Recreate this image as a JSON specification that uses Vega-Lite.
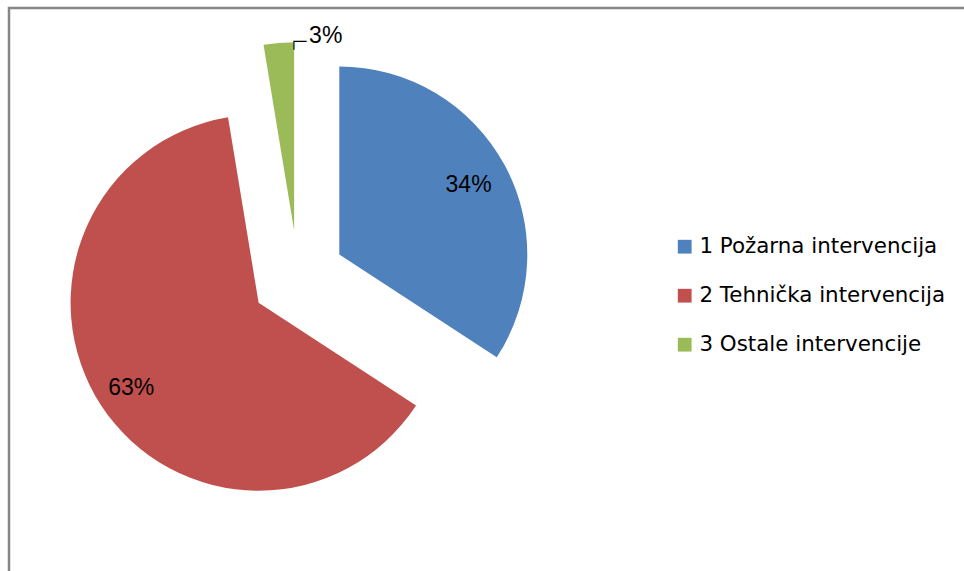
{
  "$schema": "https://vega.github.io/schema/vega-lite/v6.json",
  "width": 959,
  "height": 568,
  "autosize": {"type": "none"},
  "padding": {"left": 9, "top": 8, "right": -4, "bottom": -5},
  "view": {"stroke": "#868686", "strokeWidth": 2.5},
  "config": {
    "view": {"stroke": "#868686", "strokeWidth": 2.5},
    "font": "Liberation Sans"
  },
  "data": {
    "values": [
      {"category": "1 Požarna intervencija", "order": 1, "share": 0.342},
      {"category": "2 Tehnička intervencija", "order": 2, "share": 0.632},
      {"category": "3 Ostale intervencije", "order": 3, "share": 0.026}
    ]
  },
  "transform": [
    {"stack": "share", "groupby": [], "sort": [{"field": "order"}], "as": ["s0", "s1"]},
    {"calculate": "(datum.s0 + datum.s1) / 2", "as": "mid"}
  ],
  "layer": [
    {
      "transform": [{"filter": "datum.order == 1"}],
      "mark": {"type": "arc", "x": 289, "y": 269, "radius": 188, "xOffset": 41.3, "yOffset": -22.4},
      "encoding": {
        "theta": {"field": "s0", "type": "quantitative", "scale": {"domain": [0, 1]}},
        "theta2": {"field": "s1"},
        "color": {
          "field": "category", "type": "nominal",
          "scale": {"domain": ["1 Požarna intervencija", "2 Tehnička intervencija", "3 Ostale intervencije"], "range": ["#4F81BD", "#C0504D", "#9BBB59"]},
          "legend": {
            "title": null, "orient": "none", "legendX": 665, "legendY": 228,
            "symbolType": "square", "symbolSize": 190, "symbolStrokeWidth": 0,
            "labelFont": "DejaVu Sans", "labelFontSize": 21.4, "labelColor": "#000000",
            "labelOffset": 4, "rowPadding": 26, "labelLimit": 400
          }
        }
      }
    },
    {
      "transform": [{"filter": "datum.order == 2"}],
      "mark": {"type": "arc", "x": 289, "y": 269, "radius": 188, "xOffset": -39.4, "yOffset": 25.7},
      "encoding": {
        "theta": {"field": "s0", "type": "quantitative"},
        "theta2": {"field": "s1"},
        "color": {"field": "category", "type": "nominal"}
      }
    },
    {
      "transform": [{"filter": "datum.order == 3"}],
      "mark": {"type": "arc", "x": 289, "y": 269, "radius": 188, "xOffset": -3.9, "yOffset": -46.8},
      "encoding": {
        "theta": {"field": "s0", "type": "quantitative"},
        "theta2": {"field": "s1"},
        "color": {"field": "category", "type": "nominal"}
      }
    },
    {
      "transform": [{"filter": "datum.order == 1"}],
      "mark": {"type": "text", "x": 289, "y": 269, "radius": 147, "xOffset": 41.3, "yOffset": -22.4, "fontSize": 23, "color": "#000000"},
      "encoding": {
        "theta": {"field": "mid", "type": "quantitative"},
        "text": {"field": "share", "type": "quantitative", "format": ".0%"}
      }
    },
    {
      "transform": [{"filter": "datum.order == 2"}],
      "mark": {"type": "text", "x": 289, "y": 269, "radius": 152, "xOffset": -39.4, "yOffset": 27.5, "fontSize": 23, "color": "#000000"},
      "encoding": {
        "theta": {"field": "mid", "type": "quantitative"},
        "text": {"field": "share", "type": "quantitative", "format": ".0%"}
      }
    },
    {
      "transform": [{"filter": "datum.order == 3"}],
      "mark": {"type": "text", "x": 289, "y": 269, "radius": 194, "xOffset": -3.9, "yOffset": -46.8, "dx": 15, "align": "left", "fontSize": 23, "color": "#000000"},
      "encoding": {
        "theta": {"field": "s1", "type": "quantitative"},
        "text": {"field": "share", "type": "quantitative", "format": ".0%"}
      }
    },
    {
      "transform": [{"filter": "datum.order == 3"}],
      "mark": {"type": "text", "x": 289, "y": 269, "radius": 188, "xOffset": -3.9, "yOffset": -46.8, "dx": -4.6, "align": "left", "baseline": "middle", "font": "DejaVu Sans Mono", "fontWeight": "bold", "fontSize": 14, "color": "#000000", "text": "┌─"},
      "encoding": {
        "theta": {"field": "s1", "type": "quantitative"}
      }
    }
  ]
}
